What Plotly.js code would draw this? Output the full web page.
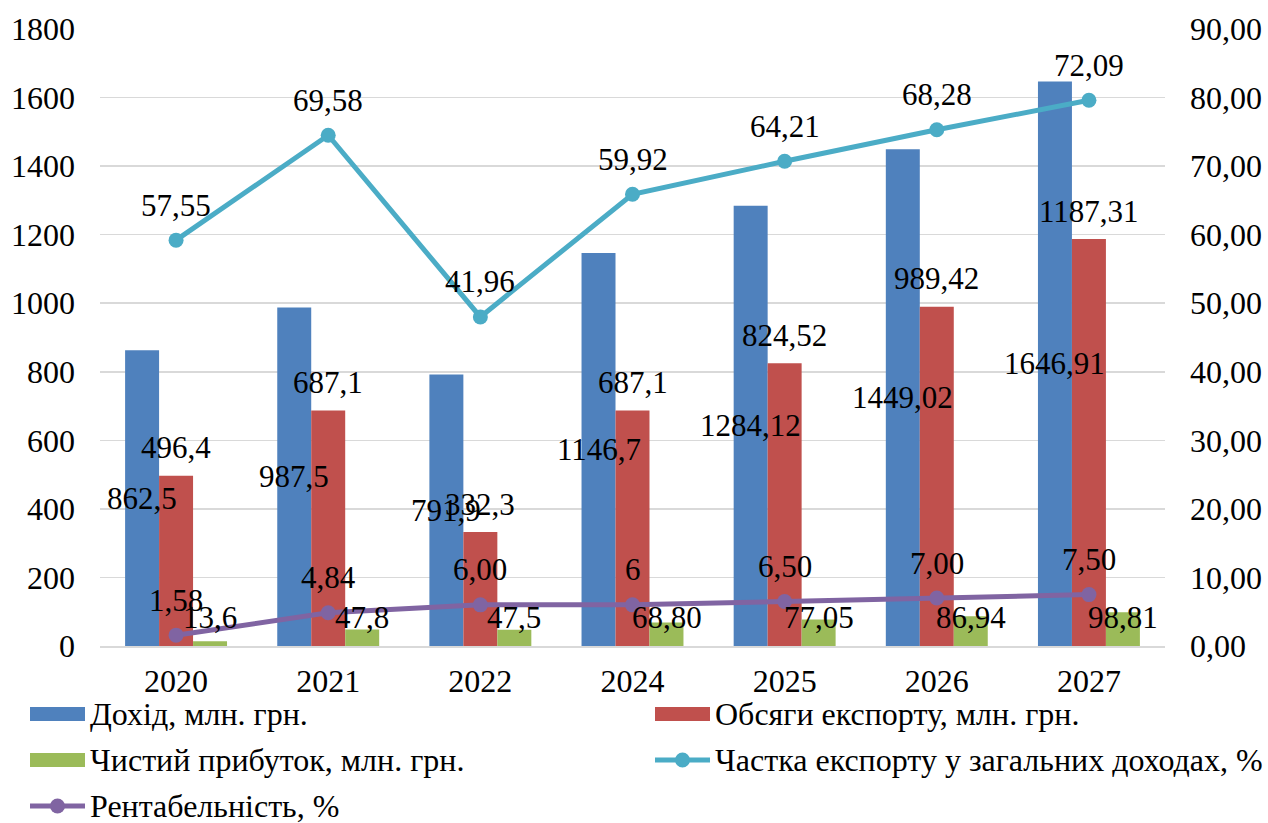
<!DOCTYPE html>
<html>
<head>
<meta charset="utf-8">
<script src="https://cdn.plot.ly/plotly-3.0.1.min.js"></script>
<style>
  html, body { margin: 0; padding: 0; background: #fff; }
  #chart { width: 1268px; height: 823px; }
</style>
</head>
<body>
<div id="chart"></div>
<script>
// ---- Data ----
const years = ['2020', '2021', '2022', '2024', '2025', '2026', '2027'];

const income = [862.5, 987.5, 791.9, 1146.7, 1284.12, 1449.02, 1646.91];
const incomeLabels = ['862,5', '987,5', '791,9', '1146,7', '1284,12', '1449,02', '1646,91'];

const exportVol = [496.4, 687.1, 332.3, 687.1, 824.52, 989.42, 1187.31];
const exportLabels = ['496,4', '687,1', '332,3', '687,1', '824,52', '989,42', '1187,31'];

const profit = [13.6, 47.8, 47.5, 68.80, 77.05, 86.94, 98.81];
const profitLabels = ['13,6', '47,8', '47,5', '68,80', '77,05', '86,94', '98,81'];

// plotted positions of the export-share line (as drawn) and its printed labels
const exportShare = [59.2, 74.5, 48.0, 65.9, 70.7, 75.3, 79.6];
const exportShareLabels = ['57,55', '69,58', '41,96', '59,92', '64,21', '68,28', '72,09'];

const profitability = [1.58, 4.84, 6.00, 6, 6.50, 7.00, 7.50];
const profitabilityLabels = ['1,58', '4,84', '6,00', '6', '6,50', '7,00', '7,50'];

const names = ['Дохід, млн. грн.', 'Обсяги експорту, млн. грн.', 'Чистий прибуток, млн. грн.',
               'Частка експорту у загальних доходах, %', 'Рентабельність, %'];

// ---- Styling ----
const FONT = 'Liberation Serif';
const FS_TICK = 32, FS_LABEL = 31, FS_LEG = 32;
const C_BLUE = '#4F81BD', C_RED = '#C0504D', C_GREEN = '#9BBB59', C_TEAL = '#4BACC6', C_PURPLE = '#8064A2';
const colors = [C_BLUE, C_RED, C_GREEN, C_TEAL, C_PURPLE];

const W = 1268, H = 823, ML = 100, MR = 103, MT = 29, MB = 177;
const PW = W - ML - MR, PH = H - MT - MB;
const pxX = px => (px - ML) / PW;          // page pixel -> paper x
const pxY = py => (H - MB - py) / PH;      // page pixel -> paper y

const xi = years.map((_, i) => i);

const traces = [
  { type: 'bar', name: names[0], x: xi, y: income, marker: { color: C_BLUE } },
  { type: 'bar', name: names[1], x: xi, y: exportVol, marker: { color: C_RED } },
  { type: 'bar', name: names[2], x: xi, y: profit, marker: { color: C_GREEN } },
  { type: 'scatter', mode: 'lines+markers', name: names[3], x: xi, y: exportShare, yaxis: 'y2',
    line: { color: C_TEAL, width: 5 }, marker: { color: C_TEAL, size: 15 } },
  { type: 'scatter', mode: 'lines+markers', name: names[4], x: xi, y: profitability, yaxis: 'y2',
    line: { color: C_PURPLE, width: 5 }, marker: { color: C_PURPLE, size: 15 } }
];

const annotations = [];
function addLabels(vals, labels, yref, yFn, xshift, yshift) {
  vals.forEach((v, i) => {
    annotations.push({
      x: xi[i], y: yFn(v), xref: 'x', yref: yref, text: labels[i],
      showarrow: false, xshift: xshift, yshift: yshift,
      font: { family: FONT, size: FS_LABEL, color: '#000' }
    });
  });
}
addLabels(income, incomeLabels, 'y', v => v / 2, -34, 0);
addLabels(exportVol, exportLabels, 'y', v => v, 0, 28);
addLabels(profit, profitLabels, 'y', v => 0, 34, 29);
addLabels(exportShare, exportShareLabels, 'y2', v => v, 0, 35);
addLabels(profitability, profitabilityLabels, 'y2', v => v, 0, 35);

// ---- Custom legend (two columns, Excel-style swatches) ----
const shapes = [];
const legendItems = [
  { name: names[0], kind: 'bar',  sx: 30,  tx: 88,  cy: 714 },
  { name: names[1], kind: 'bar',  sx: 655, tx: 713, cy: 714 },
  { name: names[2], kind: 'bar',  sx: 30,  tx: 88,  cy: 760 },
  { name: names[3], kind: 'line', sx: 655, tx: 713, cy: 760 },
  { name: names[4], kind: 'line', sx: 30,  tx: 88,  cy: 806 }
];
legendItems.forEach((it, k) => {
  const col = colors[k];
  if (it.kind === 'bar') {
    shapes.push({ type: 'rect', xref: 'paper', yref: 'paper',
      x0: pxX(it.sx), x1: pxX(it.sx + 55), y0: pxY(it.cy + 7), y1: pxY(it.cy - 7),
      fillcolor: col, line: { width: 0 } });
  } else {
    shapes.push({ type: 'line', xref: 'paper', yref: 'paper',
      x0: pxX(it.sx), x1: pxX(it.sx + 55), y0: pxY(it.cy), y1: pxY(it.cy),
      line: { color: col, width: 5 } });
    shapes.push({ type: 'circle', xref: 'paper', yref: 'paper',
      x0: pxX(it.sx + 27.5 - 7.5), x1: pxX(it.sx + 27.5 + 7.5),
      y0: pxY(it.cy + 7.5), y1: pxY(it.cy - 7.5),
      fillcolor: col, line: { width: 0 } });
  }
  annotations.push({ xref: 'paper', yref: 'paper', x: pxX(it.tx), y: pxY(it.cy),
    xanchor: 'left', yanchor: 'middle', showarrow: false, text: it.name,
    font: { family: FONT, size: FS_LEG, color: '#000' } });
});

const layout = {
  width: W, height: H,
  margin: { l: ML, r: MR, t: MT, b: MB },
  paper_bgcolor: '#fff', plot_bgcolor: '#fff',
  font: { family: FONT, size: FS_TICK, color: '#000' },
  separators: ', ',
  barmode: 'group', bargap: 0.33, bargroupgap: 0,
  showlegend: false,
  xaxis: {
    range: [-0.5, years.length - 0.5], tickvals: xi, ticktext: years,
    showgrid: false, zeroline: false,
    showline: true, linecolor: '#D9D9D9', linewidth: 2,
    ticks: '', ticklabelstandoff: 6,
    tickfont: { family: FONT, size: FS_TICK, color: '#000' }
  },
  yaxis: {
    range: [0, 1800], dtick: 200, tick0: 0,
    showgrid: true, gridcolor: '#D9D9D9', gridwidth: 1.5,
    zeroline: false, showline: false, ticks: '', ticklabelstandoff: 24,
    tickfont: { family: FONT, size: FS_TICK, color: '#000' }
  },
  yaxis2: {
    overlaying: 'y', side: 'right', range: [0, 90], dtick: 10, tick0: 0,
    tickformat: '.2f', showgrid: false, zeroline: false, showline: false,
    ticks: '', ticklabelstandoff: 24,
    tickfont: { family: FONT, size: FS_TICK, color: '#000' }
  },
  shapes: shapes,
  annotations: annotations
};

Plotly.newPlot('chart', traces, layout, { displayModeBar: false, staticPlot: true });
</script>
</body>
</html>
